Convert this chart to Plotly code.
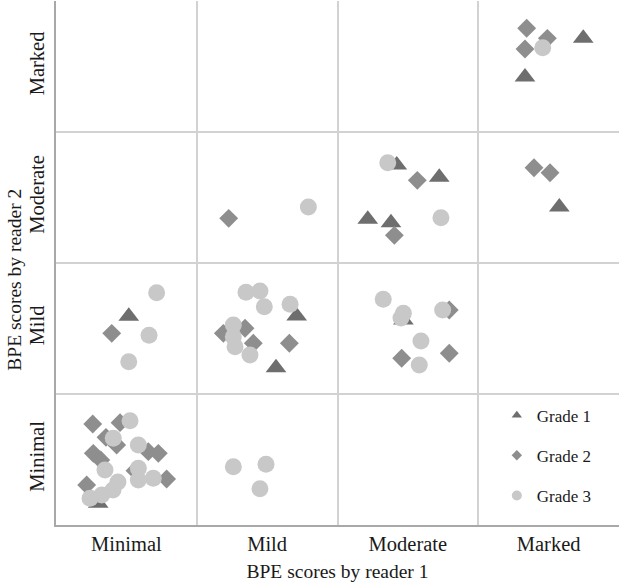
import plotly.graph_objects as go

categories = ["Minimal", "Mild", "Moderate", "Marked"]

# Grade 1 (triangles): reader 1 score (x), reader 2 score (y), cell 0..4
g1_x = [3.746, 3.332, 2.421, 2.723, 2.215, 2.380, 3.576, 0.517, 1.710, 1.563, 2.468, 0.300]
g1_y = [3.716, 3.420, 2.748, 2.654, 2.334, 2.308, 2.427, 1.593, 1.595, 1.201, 1.565, 0.166]

# Grade 2 (diamonds)
g2_x = [3.344, 3.491, 3.332, 2.567, 2.404, 3.396, 3.510, 1.227, 0.396, 1.189, 1.343,
        1.402, 1.658, 2.794, 2.456, 2.794, 0.261, 0.455, 0.355, 0.431, 0.656, 0.727,
        0.265, 0.318, 0.561, 0.786, 0.218]
g2_y = [3.792, 3.715, 3.634, 2.631, 2.211, 2.727, 2.689, 2.341, 1.463, 1.463, 1.502,
        1.387, 1.387, 1.641, 1.273, 1.311, 0.771, 0.781, 0.669, 0.611, 0.560, 0.547,
        0.547, 0.496, 0.415, 0.351, 0.305]

# Grade 3 (circles)
g3_x = [3.458, 1.793, 2.357, 2.735, 0.715, 0.661, 0.517, 1.350, 1.449, 1.480, 1.663,
        1.260, 1.260, 1.272, 1.378, 2.325, 2.468, 2.451, 2.747, 2.593, 2.581, 0.526,
        0.407, 0.585, 0.348, 0.585, 0.585, 0.691, 0.440, 0.405, 0.242, 0.325, 1.260,
        1.492, 1.449]
g3_y = [3.644, 2.427, 2.766, 2.346, 1.773, 1.448, 1.247, 1.776, 1.786, 1.666, 1.685,
        1.527, 1.437, 1.361, 1.298, 1.723, 1.616, 1.580, 1.641, 1.405, 1.221, 0.796,
        0.662, 0.611, 0.420, 0.433, 0.344, 0.356, 0.328, 0.267, 0.204, 0.229, 0.445,
        0.463, 0.277]

series = [
    ("Grade 1", g1_x, g1_y, "triangle-up", "#6e6e6e", 18, 9),
    ("Grade 2", g2_x, g2_y, "diamond", "#8e8e8e", 14.5, 8),
    ("Grade 3", g3_x, g3_y, "circle", "#c8c8c8", 17, 10),
]

FONT = "Liberation Serif, Times New Roman, serif"
fig = go.Figure()
for name, xs, ys, sym, col, size, lsize in series:
    fig.add_trace(go.Scatter(x=xs, y=ys, mode="markers", name=name, showlegend=False,
                             marker=dict(symbol=sym, color=col, size=size, line=dict(width=0))))
for name, xs, ys, sym, col, size, lsize in series:
    fig.add_trace(go.Scatter(x=[None], y=[None], mode="markers", name=name,
                             legendgroup=name, showlegend=True,
                             marker=dict(symbol=sym, color=col, size=lsize, line=dict(width=0))))

centers = [0.5, 1.5, 2.5, 3.5]
bounds = [0, 1, 2, 3, 4]
axis_common = dict(
    range=[0, 4], tickmode="array", tickvals=centers, ticktext=categories,
    showgrid=False, zeroline=False, ticks="", showline=True, linecolor="#a8a8a8",
    linewidth=1.5, mirror=False, fixedrange=True, automargin=False,
    tickfont=dict(family=FONT, size=20.5, color="#1a1a1a"),
    minor=dict(tickmode="array", tickvals=bounds, showgrid=True, gridcolor="#d2d2d2",
               gridwidth=2, ticks=""),
)
fig.update_xaxes(**axis_common,
                 title=dict(text="BPE scores by reader 1", font=dict(family=FONT, size=19.5, color="#1a1a1a"),
                            standoff=10))
fig.update_yaxes(**axis_common, tickangle=-90, ticklabelstandoff=2)

fig.add_annotation(text="BPE scores by reader 2", xref="paper", yref="paper",
                   x=-0.073, y=0.468, xanchor="center", yanchor="middle",
                   textangle=-90, showarrow=False,
                   font=dict(family=FONT, size=19.5, color="#1a1a1a"))

fig.update_layout(
    width=620, height=583,
    margin=dict(l=56, r=1, t=1, b=58, autoexpand=False),
    plot_bgcolor="white", paper_bgcolor="white",
    hovermode=False,
    legend=dict(x=0.783, y=0.243, xanchor="left", yanchor="top", bgcolor="rgba(0,0,0,0)",
                font=dict(family=FONT, size=17, color="#1a1a1a"), tracegroupgap=15,
                itemwidth=30),
)
fig.write_html("out.html", config={"displayModeBar": False},
               post_script="document.body.style.margin='0px';document.body.style.overflow='hidden';")
